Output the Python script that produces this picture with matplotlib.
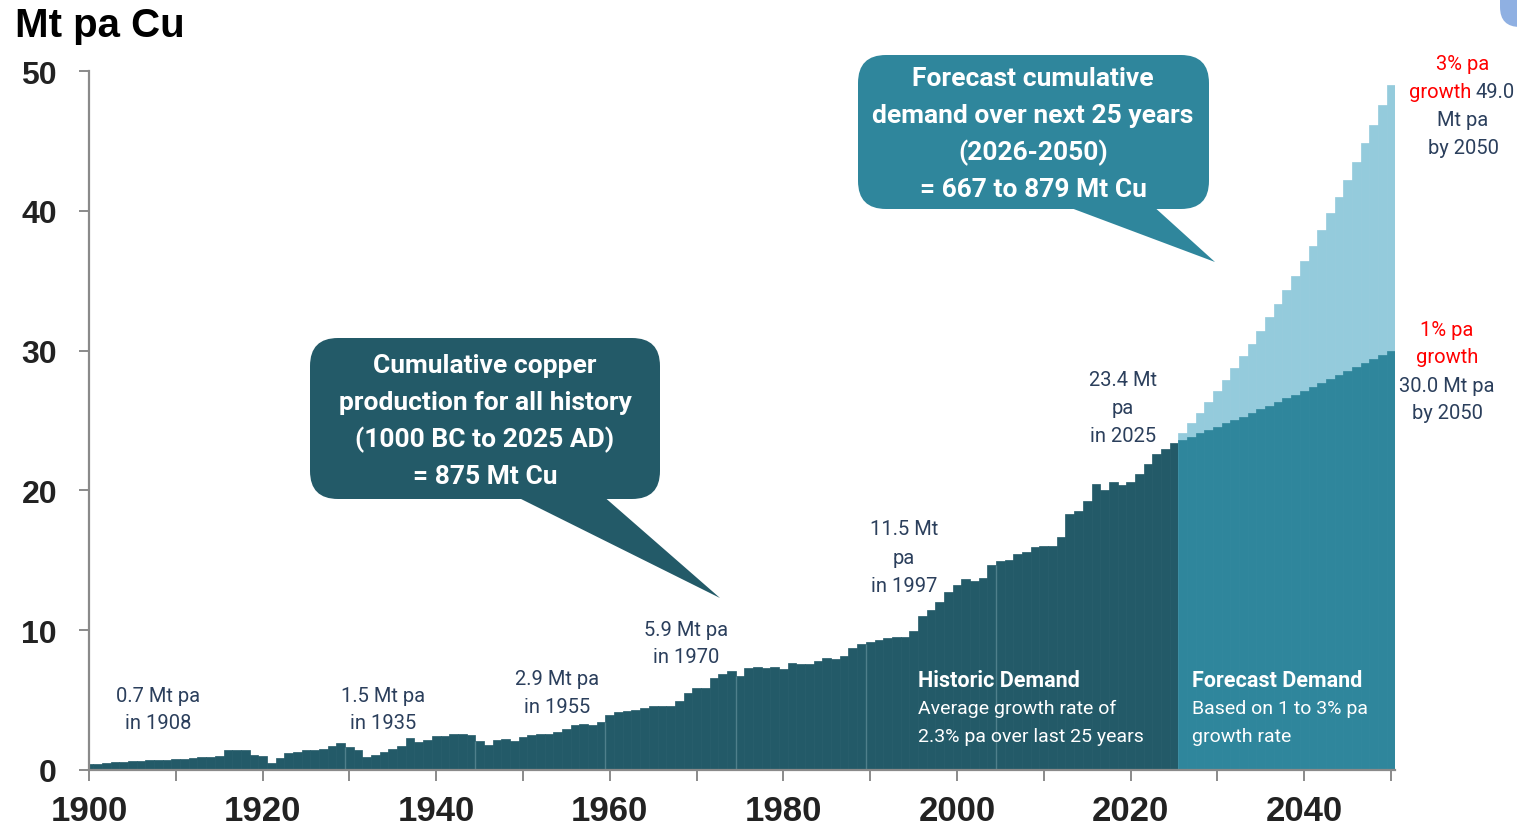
import numpy as np
import matplotlib
matplotlib.use("Agg")
import matplotlib.pyplot as plt
from matplotlib.patches import FancyBboxPatch, Polygon

NARROW = "Roboto"           # closest installed face to the condensed original
WIDE = "Liberation Sans"

# Historic copper demand, Mt pa, 1900-2025
hist_years = np.arange(1900, 2026)
hist_values = [
    0.45, 0.45, 0.50, 0.55, 0.60, 0.63, 0.66, 0.68, 0.70, 0.72,   # 1900s
    0.78, 0.82, 0.88, 0.92, 0.95, 1.00, 1.40, 1.40, 1.40, 1.05,   # 1910s
    1.00, 0.50, 0.85, 1.20, 1.30, 1.45, 1.45, 1.50, 1.70, 1.95,   # 1920s
    1.65, 1.40, 0.95, 1.05, 1.30, 1.50, 1.70, 2.30, 2.00, 2.15,   # 1930s
    2.40, 2.45, 2.55, 2.60, 2.50, 2.10, 1.80, 2.15, 2.20, 2.10,   # 1940s
    2.35, 2.50, 2.55, 2.60, 2.70, 2.93, 3.25, 3.30, 3.20, 3.40,   # 1950s
    3.93, 4.13, 4.20, 4.30, 4.40, 4.60, 4.60, 4.60, 4.96, 5.50,   # 1960s
    5.90, 5.90, 6.55, 6.87, 7.06, 6.70, 7.27, 7.40, 7.30, 7.35,   # 1970s
    7.22, 7.65, 7.56, 7.58, 7.80, 7.99, 7.95, 8.18, 8.70, 9.00,   # 1980s
    9.18, 9.32, 9.42, 9.48, 9.48, 9.96, 10.99, 11.47, 12.04, 12.76,  # 1990s
    13.26, 13.66, 13.55, 13.73, 14.66, 14.93, 15.04, 15.45, 15.57, 15.93,  # 2000s
    16.05, 16.05, 16.64, 18.31, 18.55, 19.26, 20.46, 20.05, 20.58, 20.39,  # 2010s
    20.58, 21.17, 21.89, 22.60, 22.96, 23.39,                      # 2020-2025
]

# Forecast demand, 2026-2050
fc_years = np.arange(2026, 2051)
fc_low = [23.60, 23.80, 24.08, 24.30, 24.56, 24.82, 25.04, 25.28, 25.54, 25.82,
          26.06, 26.30, 26.59, 26.85, 27.13, 27.42, 27.68, 27.97, 28.25, 28.54,
          28.80, 29.10, 29.40, 29.69, 30.00]     # 1% pa
fc_high = [24.08, 24.82, 25.54, 26.30, 27.09, 27.90, 28.76, 29.60, 30.47, 31.42,
           32.38, 33.33, 34.33, 35.36, 36.39, 37.50, 38.65, 39.82, 41.00, 42.23,
           43.51, 44.83, 46.16, 47.57, 49.00]    # 3% pa

# faint joins between the pasted image pieces in the original
seam_years = [1929.5, 1944.5, 1959.5, 1974.5, 1989.5, 2004.5]

DARK = "#235a68"
MID = "#2f869c"
LIGHT = "#94cbdc"
NAVY = "#2b3f5c"
RED = "#ff0000"

fig = plt.figure(figsize=(15.17, 8.28), dpi=100)
ax = fig.add_axes([89 / 1517, 1 - 771 / 828, 1306.3 / 1517, (771 - 72) / 828])

ax.bar(hist_years, hist_values, width=1.0, color=DARK, edgecolor=DARK, linewidth=0.5)
ax.bar(fc_years, fc_high, width=1.0, color=LIGHT, edgecolor=LIGHT, linewidth=0.5)
ax.bar(fc_years, fc_low, width=1.0, color=MID, edgecolor=MID, linewidth=0.5)

for s in seam_years:
    i = int(s - 1900 + 0.5)
    top = min(hist_values[i - 1], hist_values[i])
    ax.vlines(s, 0, top, color="#4f7f8b", linewidth=1.0)

ax.set_xlim(1900, 2050.5)
ax.set_ylim(0, 50)
for side in ["top", "right"]:
    ax.spines[side].set_visible(False)
for side in ["left", "bottom"]:
    ax.spines[side].set_color("#8a8a8a")
    ax.spines[side].set_linewidth(1.6)

ax.set_xticks(np.arange(1900, 2041, 20))
ax.set_xticks(np.arange(1910, 2051, 20), minor=True)
ax.set_yticks(np.arange(0, 51, 10))
ax.tick_params(axis="x", which="both", direction="out", length=8, width=1.4,
               color="#8a8a8a", pad=9)
ax.tick_params(axis="y", direction="out", length=7, width=1.4, color="#8a8a8a", pad=16)
for lab in ax.get_xticklabels():
    lab.set_fontfamily(WIDE)
    lab.set_fontweight("bold")
    lab.set_fontsize(25)
    lab.set_color("#222222")
for lab in ax.get_yticklabels():
    lab.set_fontfamily(WIDE)
    lab.set_fontweight("bold")
    lab.set_fontsize(23)
    lab.set_color("#222222")


def P(x, y):
    # reference pixel -> inches from bottom left
    return (x / 100, (828 - y) / 100)


def ftext(x, y, s, **kw):
    fig.text(x / 1517, 1 - y / 828, s, **kw)


fig.text(15 / 1517, 1 - 26 / 828, "Mt pa Cu", fontsize=29, fontweight="bold",
         family=WIDE, color="black", va="center", ha="left")


def callout(x0, y0, x1, y1, base, tip, color, lines, cx, ys):
    box = FancyBboxPatch(P(x0, y1), (x1 - x0) / 100, (y1 - y0) / 100,
                         boxstyle="round,pad=0,rounding_size=0.28",
                         transform=fig.dpi_scale_trans, facecolor=color,
                         edgecolor="none")
    fig.add_artist(box)
    tri = Polygon([P(base[0], y1 - 4), P(base[1], y1 - 4), P(*tip)], closed=True,
                  transform=fig.dpi_scale_trans, facecolor=color, edgecolor="none")
    fig.add_artist(tri)
    for s, yy in zip(lines, ys):
        ftext(cx, yy, s, color="white", fontsize=19, fontweight="bold",
              family=NARROW, ha="center", va="center")


callout(310, 339, 660, 500, (513, 602), (720, 599), DARK,
        ["Cumulative copper", "production for all history",
         "(1000 BC to 2025 AD)", "= 875 Mt Cu"], 485, [366, 403, 440, 477])
callout(858, 56, 1209, 210, (1063, 1152), (1215, 263), MID,
        ["Forecast cumulative", "demand over next 25 years",
         "(2026-2050)", "= 667 to 879 Mt Cu"], 1033, [79, 116, 153, 190])

# corner shape at top right
fig.add_artist(FancyBboxPatch(P(1500, 28), 0.8, 0.6,
                              boxstyle="round,pad=0,rounding_size=0.2",
                              transform=fig.dpi_scale_trans,
                              facecolor="#8fb0e2", edgecolor="none"))

# value labels
notes = [
    (158, [697, 724], ["0.7 Mt pa", "in 1908"]),
    (383, [697, 724], ["1.5 Mt pa", "in 1935"]),
    (557, [680, 708], ["2.9 Mt pa", "in 1955"]),
    (686, [630, 658], ["5.9 Mt pa", "in 1970"]),
    (904, [530, 558, 586], ["11.5 Mt", "pa", "in 1997"]),
    (1123, [381, 409, 437], ["23.4 Mt", "pa", "in 2025"]),
]
for cx, ys, lines in notes:
    for s, yy in zip(lines, ys):
        ftext(cx, yy, s, color=NAVY, fontsize=14.5, family=NARROW,
              ha="center", va="center")

# right side growth labels
nk = dict(fontsize=14.5, family=NARROW, va="center")
ftext(1463, 64, "3% pa", color=RED, ha="center", **nk)
ftext(1471, 92, "growth", color=RED, ha="right", **nk)
ftext(1475, 92, "49.0", color=NAVY, ha="left", **nk)
ftext(1463, 120, "Mt pa", color=NAVY, ha="center", **nk)
ftext(1463, 148, "by 2050", color=NAVY, ha="center", **nk)

ftext(1447, 331, "1% pa", color=RED, ha="center", **nk)
ftext(1447, 358, "growth", color=RED, ha="center", **nk)
ftext(1447, 386, "30.0 Mt pa", color=NAVY, ha="center", **nk)
ftext(1447, 414, "by 2050", color=NAVY, ha="center", **nk)

# labels inside the bars
wk = dict(color="white", family=NARROW, ha="left", va="center")
ftext(918, 681, "Historic Demand", fontsize=15.5, fontweight="bold", **wk)
ftext(918, 709, "Average growth rate of", fontsize=14, **wk)
ftext(918, 737, "2.3% pa over last 25 years", fontsize=14, **wk)
ftext(1192, 681, "Forecast Demand", fontsize=15.5, fontweight="bold", **wk)
ftext(1192, 709, "Based on 1 to 3% pa", fontsize=14, **wk)
ftext(1192, 737, "growth rate", fontsize=14, **wk)

fig.savefig("out.png", dpi=100)
